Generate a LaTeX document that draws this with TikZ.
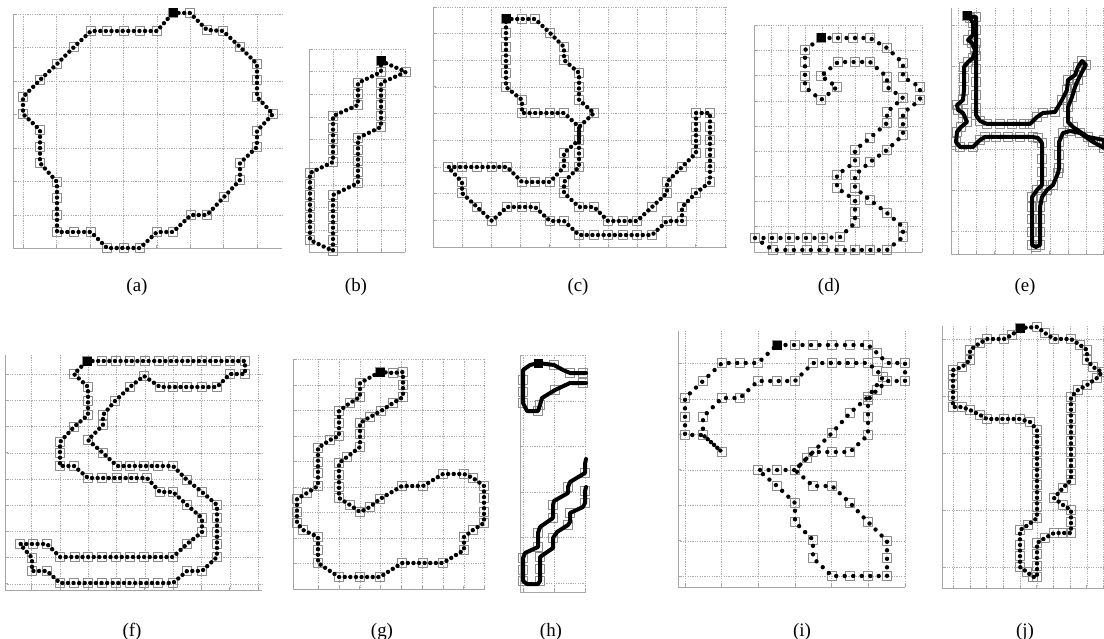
\documentclass[tikz,border=0pt]{standalone}
\usepackage{fontspec}
\setmainfont{Liberation Serif}
\tikzset{
  every picture/.append style={line cap=round,line join=round},
  cc grid/.style={gray!65,line width=0.55bp,line cap=butt,dash pattern=on 1.2bp off 1.2bp},
  cc axis/.style={gray!70,line width=0.9bp,line cap=butt},
  cc chain/.style={black,line width=4.4bp,line cap=round,dash pattern=on 0bp off 5.6bp},
  cc sparse/.style={cc chain,dash pattern=on 0bp off 8.5bp},
  cc stroke/.style={black,line width=4bp},
  cc cell/.style={black!45,line width=1bp},
  cc start/.style={fill=black},
  cc label/.style={font=\fontsize{19}{22}\selectfont}
}
% frame of one panel: left, top, right, bottom, grid x, grid y
\newcommand\ccpanel[6]{%
  \foreach \gx in {#5} {\draw[cc grid] (\gx,#2) -- (\gx,#4); \draw[cc axis] (\gx,#4) -- ++(0,-3);}
  \foreach \gy in {#6} {\draw[cc grid] (#1,\gy) -- (#3,\gy); \draw[cc axis] (#1,\gy) -- ++(3,0);}
  \draw[cc axis] (#1,#2) -- (#1,#4) -- (#3,#4);
}
\newcommand\cccells[1]{\foreach \p in {#1} \draw[cc cell] \p ++(-4.2,-4.2) rectangle ++(8.4,8.4);}
% closed contour, start point first
\newcommand\ccloop[3][cc chain]{%
  \cccells{#2,#3}
  \draw[#1] #2 \foreach \p in {#3} {-- \p} -- cycle;
  \fill[cc start] #2 ++(-4.5,-4.5) rectangle ++(9,9);
}
\begin{document}
\begin{tikzpicture}[x=1bp,y=-1bp]
  \useasboundingbox (0,0) rectangle (1104,639);

  % (a)
  \ccpanel{13}{14}{282}{248}{23.3,56.7,90.1,123.5,156.9,190.3,223.7,257.1}{14,47.5,81,114.5,148,181.5,215}
  \ccloop{(173,13)}{(190,13),(207,30),(223,31),(240,47),(257,64),(257,80),(257,97),(273,114),(257,131),(257,147),(240,163),(240,180),(224,197),(207,215),(191,215),(173,232),(157,232),(140,248),(124,248),(107,248),(91,232),(74,232),(57,232),(57,215),(57,198),(57,182),(40,163),(40,147),(40,130),(23,114),(23,97),(40,80),(57,64),(74,47),(91,31),(107,31),(124,31),(140,31),(157,31)}
  \node[cc label] (lbla) at (137,287) {(a)};

  % (b)
  \ccpanel{309}{49}{405}{252}{333.3,357.7,381.7,405}{49,71.7,94.3,117,139.7,162.3,185,207.7,230.3}
  \ccloop{(381,61)}{(406,72),(381,83),(381,94),(381,105),(381,116),(381,127),(358,138),(358,150),(358,161),(358,172),(358,183),(333,195),(333,206),(333,217),(333,228),(333,240),(333,251),(310,240),(310,228),(310,217),(310,206),(310,195),(310,184),(310,173),(333,162),(333,150),(333,139),(333,128),(333,116),(358,105),(358,94),(358,83),(381,72)}
  \node[cc label] (lblb) at (356,287) {(b)};

  % (c)
  \ccpanel{433}{7}{727}{247}{462.3,491.5,520.7,549.9,579.1,608.3,637.5,666.7,695.9,725.1}{7,33.5,60.2,86.9,113.6,140.3,167,193.7,220.4}
  \ccloop{(506,19)}{(522,19),(535,19),(550,33),(564,47),(564,60),(579,73),(579,87),(579,100),(594,113),(579,127),(579,140),(579,153),(579,167),(564,182),(564,193),(579,207),(594,207),(608,221),(623,221),(637,221),(652,207),(667,193),(667,182),(682,167),(696,153),(696,140),(696,127),(696,113),(710,113),(710,127),(710,140),(710,153),(710,167),(710,182),(696,193),(682,207),(682,221),(667,221),(652,235),(637,235),(623,235),(608,235),(594,235),(579,235),(564,221),(550,221),(535,207),(522,207),(507,207),(492,221),(477,207),(462,193),(462,182),(448,167),(462,167),(477,167),(492,167),(507,167),(522,182),(535,182),(550,182),(564,167),(564,153),(579,140),(579,127),(564,113),(550,113),(535,113),(522,113),(522,100),(506,87),(506,73),(506,60),(506,47),(506,33)}
  \node[cc label] (lblc) at (578,287) {(c)};

  % (d)
  \ccpanel{754}{25}{922}{252}{771.7,788.4,805.1,821.8,838.5,855.2,871.9,888.6,905.3,922}{25,50,75.5,101,126.5,151.5,176.5,201.5,226.5}
  \ccloop[cc sparse]{(821,38)}{(837,38),(853,38),(870,38),(887,48),(903,63),(903,77),(920,87),(920,100),(903,113),(903,123),(903,135),(887,150),(870,162),(855,175),(855,188),(870,200),(887,213),(903,227),(903,237),(887,250),(870,250),(855,250),(840,250),(823,250),(807,250),(790,250),(773,250),(755,238),(773,238),(790,238),(807,238),(823,238),(840,237),(855,223),(855,212),(855,200),(837,188),(837,175),(855,162),(855,150),(870,138),(887,123),(887,112),(903,98),(887,87),(887,77),(870,62),(855,62),(838,62),(821,76),(837,87),(821,100),(805,87),(805,76),(805,62),(805,50)}
  \node[cc label] (lbld) at (829,287) {(d)};

  % (e)
  \ccpanel{951}{8}{1104}{254}{958.3,976.6,994.9,1013.2,1031.5,1049.8,1068.1,1086.4,1103}{25,66.5,108,149,190,231}
  \ccloop[cc stroke]{(967,16)}{(976,17),(976,30),(976,43),(976,56),(976,69),(976,82),(976,95),(976,108),(976,115),(980,121),(987,124),(1000,124),(1012,124),(1024,124),(1030,124),(1037,117),(1043,113),(1055,112),(1062,100),(1067,90),(1068,80),(1075,75),(1078,67),(1082,61),(1086,65),(1082,72),(1078,80),(1075,87),(1072,97),(1068,107),(1068,122),(1073,127),(1088,137),(1104,140),(1104,148),(1093,142),(1080,133),(1070,131),(1063,133),(1059,142),(1059,155),(1059,168),(1058,173),(1053,185),(1047,190),(1042,197),(1040,207),(1040,219),(1040,232),(1040,245),(1036,247),(1032,245),(1032,232),(1032,219),(1032,207),(1032,197),(1037,190),(1042,185),(1042,172),(1042,159),(1042,143),(1038,138),(1033,137),(1020,137),(1008,137),(996,137),(985,137),(980,140),(973,147),(960,147),(956,142),(957,132),(961,127),(967,122),(963,113),(958,110),(957,105),(963,100),(964,90),(964,78),(964,67),(968,62),(973,58),(975,50),(972,43),(968,40),(973,35),(973,23),(970,18)}
  \node[cc label] (lble) at (1025,287) {(e)};

  % (f)
  \ccpanel{5}{355}{262}{590}{31.7,60,88.3,116.6,144.9,173.2,201.5,229.8,258.1}{374.3,400.5,426.7,452.9,479.1,505.3,531.5,557.7,583.9}
  \ccloop{(87,361)}{(102,361),(116,361),(130,361),(145,361),(159,361),(173,361),(187,361),(202,361),(216,361),(230,361),(245,361),(245,374),(230,374),(217,387),(202,387),(187,387),(173,387),(160,387),(144,376),(130,387),(115,401),(103,415),(103,425),(88,440),(103,453),(117,466),(130,466),(144,466),(158,466),(173,466),(187,480),(202,492),(217,505),(217,518),(217,532),(217,544),(217,557),(202,571),(187,571),(173,583),(158,583),(144,583),(130,583),(116,583),(102,583),(88,583),(74,583),(60,583),(47,571),(32,571),(32,558),(20,544),(33,544),(47,544),(60,557),(75,557),(88,557),(102,557),(116,557),(130,557),(144,557),(158,557),(173,557),(187,544),(202,532),(202,518),(187,505),(173,492),(160,492),(147,478),(133,478),(117,478),(102,478),(88,478),(74,466),(60,466),(60,453),(60,442),(74,427),(88,415),(88,401),(88,387),(74,374)}
  \node[cc label] (lblf) at (132,632) {(f)};

  % (g)
  \ccpanel{293}{359}{485}{589}{318.3,339.1,359.9,380.7,401.5,422.3,443.1,463.9,484.7}{359.3,385,410.5,436,461.5,487,512.5,538,563.5}
  \ccloop{(380,372)}{(393,373),(403,372),(403,385),(403,397),(393,403),(381,411),(370,417),(360,423),(360,434),(360,447),(347,457),(339,463),(339,475),(339,487),(339,498),(350,505),(360,512),(370,507),(380,499),(402,486),(423,486),(443,474),(464,474),(473,478),(484,486),(484,498),(484,512),(484,523),(473,530),(464,537),(464,550),(443,563),(423,563),(402,563),(380,577),(360,577),(339,577),(318,563),(318,550),(318,537),(303,530),(297,523),(297,512),(297,499),(307,493),(318,486),(318,473),(318,462),(318,448),(330,440),(339,436),(339,423),(339,411),(350,403),(360,397),(360,383)}
  \node[cc label] (lblg) at (382,632) {(g)};

  % (h)
  \ccpanel{520}{355}{586}{592}{523.5,554.3,585}{355,401,446.5,492,537.5,583}
  \cccells{(570,373),(583,373),(583,383),(555,390),(540,405),(523,380),(523,392),(523,403),(538,411),(554,365)}
  \draw[cc stroke] (586,373) -- (570,373) -- (563,370) -- (554,365) -- (538,363) -- (530,365) -- (523,370) -- (523,403)
    -- (527,411) -- (538,411) -- (540,405) -- (542,398) -- (555,390) -- (570,383) -- (586,383);
  \fill[cc start] (538,363) ++(-4.5,-4.5) rectangle ++(9,9);
  \cccells{(585,473),(568,487),(553,505),(553,518),(538,533),(538,547),(523,558),(523,570),(523,581),(540,581),(540,569),(540,557),(553,538),(568,525),(570,513),(585,503),(585,491)}
  \draw[cc stroke] (586,459) -- (585,464) -- (585,473) -- (570,482) -- (568,487) -- (568,493) -- (554,501) -- (553,505)
    -- (553,518) -- (540,527) -- (538,533) -- (538,547) -- (525,553) -- (523,558) -- (523,581) -- (527,584) -- (538,584)
    -- (540,581) -- (540,557) -- (553,548) -- (553,538) -- (557,532) -- (568,525) -- (570,522) -- (570,513) -- (583,507)
    -- (585,503) -- (585,491) -- (586,487);
  \node[cc label] (lblh) at (551,632) {(h)};

  % (i)
  \ccpanel{678}{331}{905}{587}{685,721.7,758.3,795,831.7,868.3,905}{363.3,398.8,434.3,469.8,505.3,540.8,576.3}
  \ccloop[cc sparse]{(777,345)}{(795,345),(813,345),(832,345),(850,345),(868,345),(877,353),(887,363),(905,363),(905,381),(887,381),(877,390),(868,400),(868,417),(868,435),(850,452),(832,452),(813,452),(795,470),(813,486),(832,486),(850,503),(868,522),(887,541),(887,558),(887,576),(868,576),(850,576),(832,576),(813,558),(813,540),(795,522),(795,503),(777,486),(758,470),(777,470),(795,470),(807,458),(832,433),(850,413),(868,397),(883,377),(877,371),(868,363),(850,363),(832,363),(813,363),(795,381),(777,381),(758,381),(740,398),(722,398),(703,417),(703,435),(722,452),(703,435),(685,435),(685,417),(685,398),(703,381),(722,363),(740,363),(758,363)}
  \node[cc label] (lbli) at (802,632) {(i)};

  % (j)
  \ccpanel{942}{326}{1104}{588}{953.3,970,986.7,1003.4,1020.1,1036.8,1053.5,1070.2,1086.9,1103.6}{339.3,396.3,453.3,510.3,567.3}
  \ccloop{(1020,328)}{(1037,327),(1045,333),(1054,339),(1071,339),(1080,345),(1087,350),(1087,360),(1093,367),(1102,372),(1097,378),(1087,385),(1078,390),(1071,397),(1071,408),(1071,419),(1071,430),(1071,441),(1071,452),(1071,463),(1071,474),(1071,480),(1063,488),(1054,498),(1063,505),(1071,510),(1071,522),(1071,533),(1063,533),(1054,533),(1045,538),(1037,543),(1037,554),(1037,566),(1037,577),(1033,577),(1027,572),(1020,567),(1020,556),(1020,545),(1020,530),(1028,525),(1037,518),(1037,507),(1037,496),(1037,485),(1037,474),(1037,463),(1037,452),(1037,441),(1037,430),(1030,422),(1020,419),(1004,419),(987,419),(980,415),(970,410),(962,407),(953,407),(953,396),(953,385),(953,375),(953,370),(962,367),(970,360),(970,350),(980,343),(987,339),(1004,339),(1012,335)}
  \node[cc label] (lblj) at (1025,632) {(j)};
\end{tikzpicture}
\end{document}
